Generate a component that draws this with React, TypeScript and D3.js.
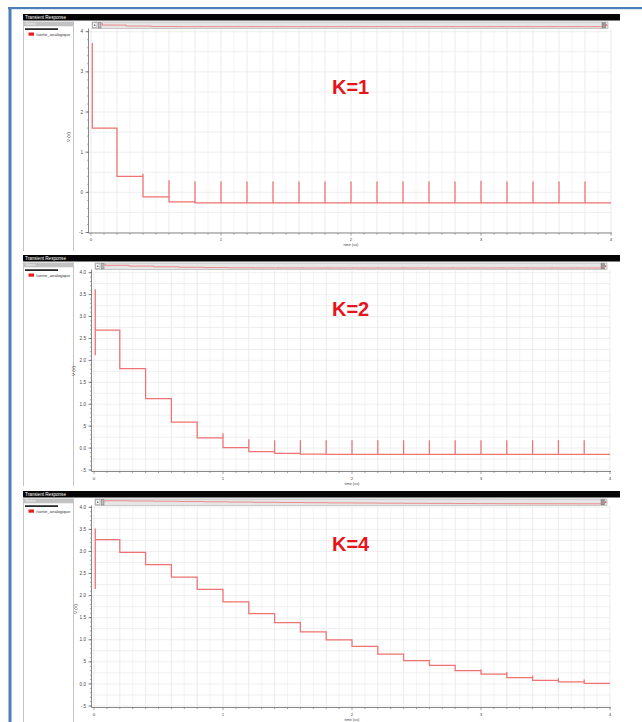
import React from "react";
import * as d3 from "d3";

// ---------- data ----------
const timeTickValues = [0, 1, 2, 3, 4];
const timeTickLabels = ["0", "1", "2", "3", "4"];
const edgeTimes = [0.2, 0.4, 0.6, 0.8, 1.0, 1.2, 1.4, 1.6, 1.8, 2.0, 2.2, 2.4, 2.6, 2.8, 3.0, 3.2, 3.4, 3.6, 3.8];
const endTime = 4;
const glitchTime = 0.01;

const kLabels = ["K=1", "K=2", "K=4"];
const legendName = "/sortie_analogique";
const panelTitle = "Transient Response";
const xTitle = "time (us)";
const yTitle = "V (V)";

// K=1
const k1Initial = [2.14, 3.72];
const k1Levels = [1.6, 0.4, -0.11, -0.24, -0.26, -0.26, -0.26, -0.26, -0.26, -0.26, -0.26, -0.26, -0.26, -0.26, -0.26, -0.26, -0.26, -0.26, -0.26, -0.26];
const k1Spikes = [null, 0.46, 0.3, 0.27, 0.27, 0.27, 0.27, 0.27, 0.27, 0.27, 0.27, 0.27, 0.27, 0.27, 0.29, 0.27, 0.27, 0.27, 0.27];
const k1YTicks = [-1, 0, 1, 2, 3, 4];
const k1YLabels = ["-1", "0", "1", "2", "3", "4"];

// K=2
const k2Initial = [2.12, 3.62];
const k2Levels = [2.69, 1.81, 1.13, 0.59, 0.23, 0.01, -0.08, -0.12, -0.14, -0.145, -0.145, -0.145, -0.145, -0.145, -0.145, -0.145, -0.145, -0.145, -0.145, -0.145];
const k2Spikes = [null, null, null, null, 0.34, 0.2, 0.18, 0.18, 0.18, 0.18, 0.18, 0.18, 0.18, 0.18, 0.18, 0.18, 0.18, 0.18, 0.18];
const k2YTicks = [-0.5, 0, 0.5, 1, 1.5, 2, 2.5, 3, 3.5, 4];
const k2YLabels = ["-.5", "0.0", ".5", "1.0", "1.5", "2.0", "2.5", "3.0", "3.5", "4.0"];

// K=4
const k4Initial = [2.15, 3.52];
const k4Levels = [3.27, 2.98, 2.7, 2.42, 2.14, 1.86, 1.59, 1.39, 1.18, 1.0, 0.85, 0.675, 0.53, 0.42, 0.3, 0.22, 0.14, 0.08, 0.045, 0.015];
const k4Spikes = [null, null, null, null, null, null, null, null, null, null, null, null, null, null, 0.33, 0.27, 0.19, 0.13, 0.1];
const k4YTicks = [-0.5, 0, 0.5, 1, 1.5, 2, 2.5, 3, 3.5, 4];
const k4YLabels = ["-.5", "0.0", ".5", "1.0", "1.5", "2.0", "2.5", "3.0", "3.5", "4.0"];

// ---------- styling ----------
const WAVE = "#f07272";
const KRED = "#e8141c";
const FONT = "'Liberation Sans', Arial, sans-serif";

type Layout = {
  barY: number; yTopPx: number; yBotPx: number; axisY: number; x0: number; x1: number;
  bottom: number; yTitleX: number; yTitleY: number; kY: number;
  yMinor: number; yGrid: number;
};

const layouts: Layout[] = [
  { barY: 14, yTopPx: 31.7, yBotPx: 232.5, axisY: 233, x0: 91, x1: 611, bottom: 251, yTitleX: 70, yTitleY: 137, kY: 94, yMinor: 0.2, yGrid: 0.5 },
  { barY: 255, yTopPx: 272.7, yBotPx: 470, axisY: 471.5, x0: 94, x1: 610, bottom: 486, yTitleX: 75, yTitleY: 371, kY: 316, yMinor: 0.1, yGrid: 0.25 },
  { barY: 491, yTopPx: 507.3, yBotPx: 706, axisY: 707.5, x0: 94, x1: 610, bottom: 722, yTitleX: 77, yTitleY: 609, kY: 551, yMinor: 0.1, yGrid: 0.25 },
];

function buildPoints(init: number[], levels: number[], spikes: (number | null)[]) {
  const pts: [number, number][] = [];
  pts.push([glitchTime, init[0]]);
  pts.push([glitchTime, init[1]]);
  pts.push([glitchTime, levels[0]]);
  edgeTimes.forEach((t, i) => {
    pts.push([t, levels[i]]);
    const s = spikes[i];
    if (s !== null && s !== undefined) pts.push([t, s]);
    pts.push([t, levels[i + 1]]);
  });
  pts.push([endTime, levels[levels.length - 1]]);
  return pts;
}

function Panel({ L, init, levels, spikes, yTicks, yLabels, kLabel }: any) {
  const lay = L as Layout;
  const yMin = yTicks[0];
  const yMax = yTicks[yTicks.length - 1];
  const x = d3.scaleLinear().domain([0, endTime]).range([lay.x0, lay.x1]);
  const y = d3.scaleLinear().domain([yMin, yMax]).range([lay.yBotPx, lay.yTopPx]);
  const pts = buildPoints(init, levels, spikes);
  const line = d3.line<[number, number]>().x((d) => x(d[0])).y((d) => y(d[1]));

  const sliderY = lay.barY + 8;
  const sliderH = 6.5;
  const ySl = d3.scaleLinear().domain([yMin, yMax]).range([sliderY + sliderH - 1.2, sliderY + 1]);
  const xSl = d3.scaleLinear().domain([0, endTime]).range([lay.x0 + 10, lay.x1 - 8]);
  const lineSl = d3.line<[number, number]>().x((d) => xSl(d[0])).y((d) => ySl(d[1]));

  const plotTop = sliderY + sliderH + 1;
  const axisX = lay.x0 - 2.5;
  const xMinor = d3.range(0, endTime + 0.001, 0.1);
  const yMinorVals = d3.range(yMin, yMax + 0.001, lay.yMinor);
  const yGridVals = d3.range(yMin, yMax + 0.001, lay.yGrid);

  return (
    <g>
      {/* black title bar */}
      <rect x={23} y={lay.barY} width={597} height={6.5} fill="#050505" />
      <text x={25} y={lay.barY + 4.8} fontSize={4.6} fill="#ffffff" fontFamily={FONT}>{panelTitle}</text>

      {/* legend column */}
      <line x1={23.5} x2={23.5} y1={lay.barY + 6.5} y2={lay.bottom} stroke="#c4c4c4" strokeWidth={1} />
      <line x1={73.5} x2={73.5} y1={lay.barY + 6.5} y2={lay.bottom} stroke="#c4c4c4" strokeWidth={1} />
      <rect x={24} y={lay.barY + 7.5} width={49} height={4.8} fill="#c2c2c2" />
      <text x={25.5} y={lay.barY + 11.3} fontSize={3.8} fill="#f4f4f4" fontFamily={FONT}>Name</text>
      <rect x={25} y={lay.barY + 14.3} width={33} height={1.6} fill="#111" />
      <rect x={28.5} y={lay.barY + 18.5} width={5.5} height={3.2} fill="#e81e1e" />
      <text x={36} y={lay.barY + 21.6} fontSize={4.2} fill="#333" fontFamily={FONT}>{legendName}</text>

      {/* slider */}
      <rect x={lay.x0 + 1} y={sliderY} width={lay.x1 - lay.x0 - 4} height={sliderH} fill="#e6e6e6" stroke="#a8a8a8" strokeWidth={0.6} />
      <rect x={lay.x0 + 1.5} y={sliderY + 0.8} width={4.5} height={4.8} fill="#f4f4f4" stroke="#8a8a8a" strokeWidth={0.5} />
      <circle cx={lay.x0 + 3.7} cy={sliderY + 3.2} r={0.8} fill="#555" />
      <rect x={lay.x0 + 7.5} y={sliderY + 0.5} width={2.5} height={5.5} fill="#bbb" stroke="#777" strokeWidth={0.5} />
      <rect x={lay.x1 - 9} y={sliderY + 0.6} width={3.5} height={5.3} fill="#9a9a9a" stroke="#666" strokeWidth={0.4} />
      <circle cx={lay.x1 - 4.5} cy={sliderY + 3.2} r={0.9} fill="#e66" />
      <path d={lineSl(pts) || ""} fill="none" stroke={WAVE} strokeWidth={0.8} />

      {/* grid */}
      {xMinor.map((t, i) => (
        <line key={"vg" + i} x1={x(t)} x2={x(t)} y1={plotTop} y2={lay.axisY - 0.5}
          stroke={i % 2 === 0 ? "#e2e2e2" : "#efefef"} strokeWidth={0.7} />
      ))}
      {yGridVals.map((v, i) => (
        <line key={"hg" + i} x1={axisX} x2={lay.x1} y1={y(v)} y2={y(v)} stroke="#e8e8e8" strokeWidth={0.7} />
      ))}

      {/* y axis */}
      <line x1={axisX} x2={axisX} y1={plotTop - 1} y2={lay.axisY} stroke="#6c6c6c" strokeWidth={0.8} />
      {yMinorVals.map((v, i) => (
        <line key={"ym" + i} x1={axisX - 1.6} x2={axisX} y1={y(v)} y2={y(v)} stroke="#777" strokeWidth={0.6} />
      ))}
      {yTicks.map((v: number, i: number) => (
        <g key={"yt" + i}>
          <line x1={axisX - 3} x2={axisX} y1={y(v)} y2={y(v)} stroke="#555" strokeWidth={0.7} />
          <text x={axisX - 5.5} y={y(v) + 1.6} fontSize={4.6} textAnchor="end" fill="#444" fontFamily={FONT}>{yLabels[i]}</text>
        </g>
      ))}
      <text transform={`translate(${lay.yTitleX},${lay.yTitleY}) rotate(-90)`} fontSize={4.4} textAnchor="middle" fill="#444" fontFamily={FONT}>{yTitle}</text>

      {/* x axis */}
      <line x1={axisX} x2={lay.x1 + 1} y1={lay.axisY} y2={lay.axisY} stroke="#6c6c6c" strokeWidth={0.8} />
      {xMinor.map((t, i) => (
        <line key={"xm" + i} x1={x(t)} x2={x(t)} y1={lay.axisY} y2={lay.axisY + (i % 10 === 0 ? 2.6 : 1.6)} stroke="#666" strokeWidth={0.6} />
      ))}
      {timeTickValues.map((t, i) => (
        <text key={"xt" + i} x={x(t)} y={lay.axisY + 8} fontSize={4.4} textAnchor="middle" fill="#444" fontFamily={FONT}>{timeTickLabels[i]}</text>
      ))}
      <text x={x(2)} y={lay.axisY + 13.2} fontSize={3.8} textAnchor="middle" fill="#444" fontFamily={FONT}>{xTitle}</text>

      {/* waveform */}
      <path d={line(pts) || ""} fill="none" stroke={WAVE} strokeWidth={1.25} strokeLinejoin="miter" />

      {/* K label */}
      <text x={332} y={lay.kY} fontSize={20} fontWeight="bold" fill={KRED} fontFamily={FONT}>{kLabel}</text>
    </g>
  );
}

export default function App() {
  return (
    <svg width={642} height={722} style={{ position: "absolute", left: 0, top: 0, background: "#ffffff" }}>
      <rect x={0} y={0} width={642} height={722} fill="#ffffff" />
      {/* blue frame */}
      <rect x={8} y={7} width={634} height={2.2} fill="#4f7fb8" />
      <rect x={8.5} y={7} width={3} height={715} fill="#4f7fb8" />
      <Panel L={layouts[0]} init={k1Initial} levels={k1Levels} spikes={k1Spikes} yTicks={k1YTicks} yLabels={k1YLabels} kLabel={kLabels[0]} />
      <Panel L={layouts[1]} init={k2Initial} levels={k2Levels} spikes={k2Spikes} yTicks={k2YTicks} yLabels={k2YLabels} kLabel={kLabels[1]} />
      <Panel L={layouts[2]} init={k4Initial} levels={k4Levels} spikes={k4Spikes} yTicks={k4YTicks} yLabels={k4YLabels} kLabel={kLabels[2]} />
    </svg>
  );
}
